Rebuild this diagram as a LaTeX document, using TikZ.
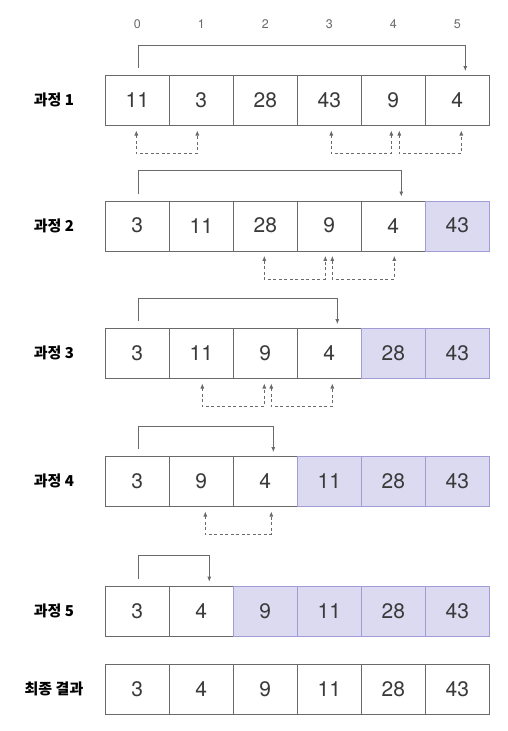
\documentclass[tikz,border=0pt]{standalone}
\usepackage{fontspec}
\usepackage{tikz}
\usetikzlibrary{arrows.meta}
\setmainfont{TeX Gyre Heros}
\newfontfamily\kr{Noto Sans CJK KR}

\definecolor{linegray}{HTML}{6A6A6A}
\definecolor{numgray}{HTML}{3A3A3A}
\definecolor{donefill}{HTML}{DCDAF0}
\definecolor{doneedge}{HTML}{A09CD6}

\tikzset{
  cell/.style={draw=linegray, fill=white, minimum width=64pt, minimum height=50pt,
    inner sep=0pt, text=numgray, font=\fontsize{21}{21}\selectfont},
  done/.style={cell, draw=doneedge, fill=donefill},
  steplabel/.style={font=\kr\bfseries\fontsize{15}{15}\selectfont, text=black},
  idxlabel/.style={font=\fontsize{12.5}{12.5}\selectfont, text=linegray},
  bracket/.style={draw=linegray, line width=0.8pt, -{Latex[length=5pt,width=4pt]}},
  swapline/.style={draw=linegray, line width=0.7pt, dashed, dash pattern=on 3pt off 2.5pt,
    {Latex[length=5pt,width=4pt]}-{Latex[length=5pt,width=4pt]}}
}

\begin{document}
\begin{tikzpicture}[x=1pt,y=-1pt]
    \useasboundingbox (0,0) rectangle (508,731);

    % rows of the array
    \foreach \r/\y/\vals/\first/\name in {
        1/100.3/{11,3,28,43,9,4}/6/{과정 1},
        2/225.7/{3,11,28,9,4,43}/5/{과정 2},
        3/353.3/{3,11,9,4,28,43}/4/{과정 3},
        4/481.3/{3,9,4,11,28,43}/3/{과정 4},
        5/610.9/{3,4,9,11,28,43}/2/{과정 5},
        6/689.3/{3,4,9,11,28,43}/6/{최종 결과}} {
      \node[steplabel] (lab\r) at (54,\y) {\name};
      \foreach \v [count=\i from 0] in \vals {
        \ifnum\i<\first
          \node[cell] (r\r c\i) at (137.3+64*\i,\y) {\v};
        \else
          \node[done] (r\r c\i) at (137.3+64*\i,\y) {\v};
        \fi
      }
    }

    % indices
    \foreach \i in {0,...,5}
      \node[idxlabel] (idx\i) at ([yshift=51pt]r1c\i.north) {\i};

    % moves of the max value
    \foreach \r/\t in {1/5,2/4,3/3,4/2,5/1}
      \draw[bracket] ([xshift=1pt,yshift=7pt]r\r c0.north)
        |- ([xshift=8pt,yshift=30pt]r\r c\t.north)
        -- ([xshift=8pt,yshift=4pt]r\r c\t.north);

    % swaps
    \foreach \r/\a/\b/\da/\db in {1/0/1/-1/-4, 1/3/4/2/-2, 1/4/5/6/4,
                                  2/2/3/-1/-4, 2/3/4/3/1,
                                  3/1/2/1/-1, 3/2/3/6/3,
                                  4/1/2/4/6}
      \draw[swapline] ([xshift=\da pt,yshift=-5pt]r\r c\a.south)
        |- ([xshift=\db pt,yshift=-28pt]r\r c\b.south)
        -- ([xshift=\db pt,yshift=-5pt]r\r c\b.south);
\end{tikzpicture}
\end{document}
